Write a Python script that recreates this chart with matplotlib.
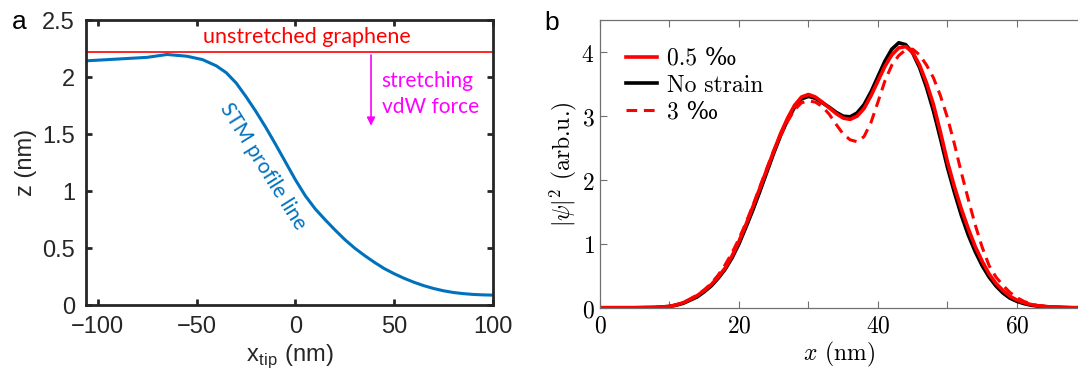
import matplotlib
matplotlib.use('Agg')
import matplotlib.pyplot as plt
import numpy as np

plt.rcParams['mathtext.fontset'] = 'cm'

# panel a: STM profile
x_tip = [-105.5, -95, -85, -75, -65, -55, -47, -40, -35, -30, -25, -20, -15, -10, -5,
         0, 5, 10, 15, 20, 25, 30, 35, 40, 45, 50, 55, 60, 65, 70, 75, 80, 85, 90, 95, 100]
z_tip = [2.145, 2.155, 2.165, 2.175, 2.20, 2.185, 2.155, 2.10, 2.04, 1.95, 1.83, 1.70, 1.56, 1.41, 1.255,
         1.10, 0.96, 0.845, 0.75, 0.66, 0.575, 0.50, 0.435, 0.375, 0.32, 0.275, 0.235, 0.20, 0.17, 0.145,
         0.125, 0.11, 0.10, 0.093, 0.089, 0.087]
z_flat = 2.22

# panel b: |psi|^2
x_b = [0, 5, 8, 10, 11, 12, 13, 14, 15, 16, 17, 18, 19, 20, 21, 22, 23, 24, 25, 26, 27, 28, 29,
       30, 31, 32, 33, 34, 35, 36, 37, 38, 39, 40, 41, 42, 43, 44, 45, 46, 47, 48, 49, 50, 51, 52,
       53, 54, 55, 56, 57, 58, 59, 60, 61, 62, 63, 65, 68, 70]
psi_05 = [0, 0, 0.005, 0.02, 0.045, 0.08, 0.13, 0.19, 0.27, 0.36, 0.48, 0.62, 0.81, 1.04, 1.30, 1.58,
          1.87, 2.16, 2.45, 2.73, 2.97, 3.17, 3.30, 3.34, 3.30, 3.22, 3.13, 3.04, 2.97, 2.95, 3.00, 3.12,
          3.32, 3.55, 3.78, 3.96, 4.07, 4.09, 4.00, 3.80, 3.52, 3.18, 2.75, 2.29, 1.90, 1.55, 1.24, 0.96,
          0.73, 0.53, 0.38, 0.27, 0.18, 0.12, 0.08, 0.05, 0.03, 0.01, 0, 0]
psi_0 = [0, 0, 0.005, 0.02, 0.04, 0.07, 0.12, 0.17, 0.25, 0.34, 0.46, 0.60, 0.78, 1.00, 1.26, 1.53,
         1.82, 2.12, 2.42, 2.70, 2.94, 3.14, 3.27, 3.31, 3.28, 3.21, 3.14, 3.06, 3.00, 2.99, 3.05, 3.18,
         3.38, 3.62, 3.86, 4.05, 4.15, 4.12, 3.99, 3.76, 3.45, 3.08, 2.65, 2.20, 1.81, 1.45, 1.14, 0.88,
         0.66, 0.48, 0.34, 0.23, 0.15, 0.10, 0.065, 0.04, 0.025, 0.01, 0, 0]
psi_3 = [0, 0, 0.005, 0.02, 0.05, 0.08, 0.14, 0.20, 0.28, 0.38, 0.51, 0.67, 0.86, 1.08, 1.33, 1.60,
         1.89, 2.18, 2.46, 2.70, 2.92, 3.10, 3.21, 3.24, 3.22, 3.15, 3.03, 2.87, 2.72, 2.63, 2.60, 2.68,
         2.90, 3.22, 3.55, 3.80, 3.95, 4.04, 4.05, 3.96, 3.80, 3.60, 3.32, 2.98, 2.57, 2.12, 1.70, 1.30,
         0.95, 0.66, 0.48, 0.35, 0.24, 0.16, 0.10, 0.06, 0.035, 0.01, 0, 0]

fig = plt.figure(figsize=(10.78, 3.91), dpi=100)

# ---- a ----
ax = fig.add_axes([0.0798, 0.2199, 0.3778, 0.7281])
dark = '#262626'
ax.axhline(z_flat, color='#ff0000', lw=1.2)
ax.plot(x_tip, z_tip, color='#0072bd', lw=2.2)
ax.set_xlim(-106, 100.2)
ax.set_ylim(0, 2.5)
ax.set_xticks([-100, -50, 0, 50, 100])
ax.set_yticks([0, 0.5, 1, 1.5, 2, 2.5])
ax.set_yticklabels(['0', '0.5', '1', '1.5', '2', '2.5'])
ax.tick_params(direction='in', length=4, width=2, color=dark, top=True, right=True,
               labelsize=17, labelcolor=dark, pad=8)
for t in ax.get_xticklabels() + ax.get_yticklabels():
    t.set_family('Liberation Sans')
for s in ax.spines.values():
    s.set_linewidth(2)
    s.set_color(dark)
ax.set_ylabel('z (nm)', fontsize=17, family='Liberation Sans', color=dark, labelpad=4)
ax.set_xlabel(r'x$_{\mathregular{tip}}$ (nm)', fontsize=17, family='Liberation Sans', color=dark, labelpad=3)

ax.text(6, 2.35, 'unstretched graphene', color='#ff0000', fontsize=15.5, family='Lato',
        ha='center', va='center')
ax.annotate('', xy=(38.3, 1.55), xytext=(38.3, z_flat),
            arrowprops=dict(arrowstyle='-|>', color='#ff00ff', lw=1.2, mutation_scale=12))
ax.text(43.6, 1.97, 'stretching', color='#ff00ff', fontsize=15, family='Lato', va='center')
ax.text(43.6, 1.74, 'vdW force', color='#ff00ff', fontsize=15, family='Lato', va='center')
ax.text(-16.5, 1.22, 'STM profile line', color='#0072bd', fontsize=15, family='Lato',
        rotation=-58, ha='center', va='center', rotation_mode='anchor')
fig.text(0.011, 0.945, 'a', fontsize=19, family='Liberation Sans', color='black', va='center')

# ---- b ----
cm_font = ['cmr10', 'DejaVu Serif']
bx = fig.add_axes([0.5566, 0.213, 0.4434, 0.7348])
bx.plot(x_b, psi_0, color='black', lw=2.6, label='No strain')
bx.plot(x_b, psi_05, color='#ff0000', lw=2.6, label='0.5 ‰')
bx.plot(x_b, psi_3, color='#ff0000', lw=2.2, ls=(0, (3.5, 2.2)), label='3 ‰')
bx.set_xlim(0, 68.8)
bx.set_ylim(0, 4.5)
bx.set_xticks([0, 20, 40, 60])
bx.set_xticklabels(['$0$', '$20$', '$40$', '$60$'])
bx.set_xticks([10, 30, 50], minor=True)
bx.set_yticks([0, 1, 2, 3, 4])
bx.set_yticklabels(['$0$', '$1$', '$2$', '$3$', '$4$'])
grey = '#707070'
bx.tick_params(which='both', direction='in', length=5, width=0.8, color=grey, top=True,
               labelsize=17, pad=4)
bx.spines['right'].set_visible(False)
for s in ['left', 'top', 'bottom']:
    bx.spines[s].set_linewidth(0.9)
    bx.spines[s].set_color(grey)
bx.set_ylabel(r'$|\psi|^2$ (arb.u.)', fontsize=17, family=cm_font, labelpad=2)
bx.set_xlabel(r'$x$ (nm)', fontsize=17, family=cm_font, labelpad=2)
h, l = bx.get_legend_handles_labels()
bx.legend([h[1], h[0], h[2]], [l[1], l[0], l[2]], loc='upper left', bbox_to_anchor=(0.054, 0.905),
          frameon=False, prop={'family': cm_font, 'size': 17}, handlelength=1.3,
          handletextpad=0.45, labelspacing=0.2, borderaxespad=0, borderpad=0)
fig.text(0.505, 0.94, 'b', fontsize=19, family='Liberation Sans', color='black', va='center')

fig.savefig('out.png', dpi=100)
